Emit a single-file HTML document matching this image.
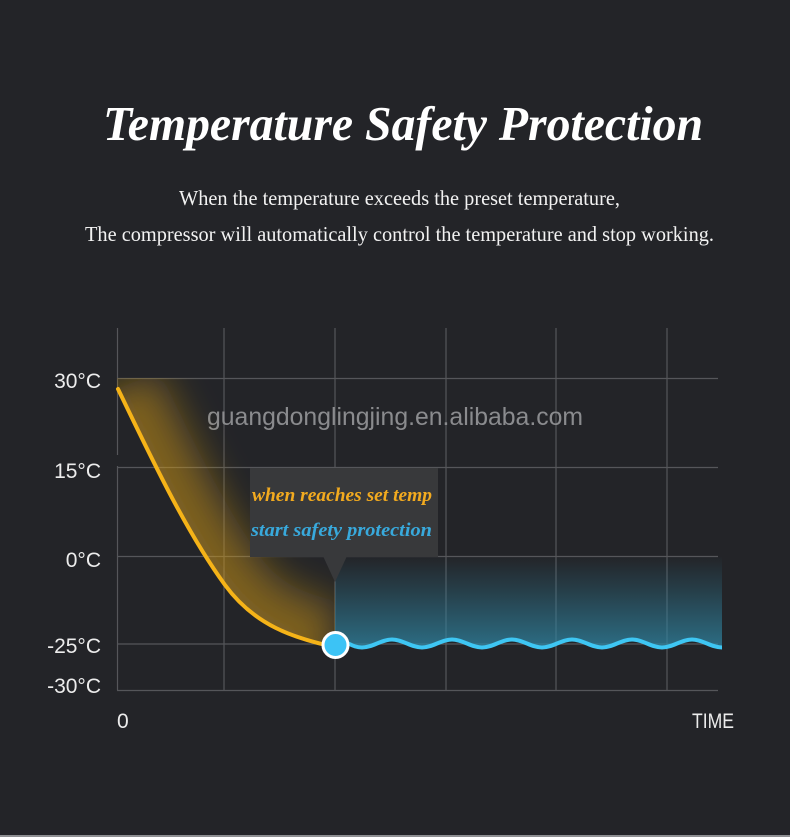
<!DOCTYPE html>
<html>
<head>
<meta charset="utf-8">
<style>
  html, body { margin:0; padding:0; background:#232428; }
  body { width:790px; height:837px; overflow:hidden; }
  svg { display:block; }
</style>
</head>
<body>
<svg width="790" height="837" viewBox="0 0 790 837" xmlns="http://www.w3.org/2000/svg">
  <defs>
    <filter id="blurG" filterUnits="userSpaceOnUse" x="0" y="300" width="500" height="450">
      <feGaussianBlur stdDeviation="18"/>
    </filter>
    <clipPath id="glowClip">
      <path d="M117,378 L117,389 L118,389 C150,455 185,530 225,585 C255,626 295,638 330,646 L335,646 L335,378 Z"/>
    </clipPath>
    <linearGradient id="blueFill" x1="0" y1="556" x2="0" y2="648" gradientUnits="userSpaceOnUse">
      <stop offset="0" stop-color="#2f86a3" stop-opacity="0"/>
      <stop offset="0.35" stop-color="#2f86a3" stop-opacity="0.25"/>
      <stop offset="1" stop-color="#2f86a3" stop-opacity="0.75"/>
    </linearGradient>
  </defs>

  <rect x="0" y="0" width="790" height="837" fill="#232428"/>
  <rect x="0" y="835" width="790" height="2" fill="#8e8f92"/>

  <!-- Title -->
  <text x="103" y="140" textLength="600" lengthAdjust="spacingAndGlyphs"
        font-family="Liberation Serif, serif" font-weight="bold" font-style="italic"
        font-size="49" fill="#ffffff">Temperature Safety Protection</text>

  <!-- Subtitle -->
  <text x="179" y="205" textLength="441" lengthAdjust="spacingAndGlyphs"
        font-family="Liberation Serif, serif" font-size="21" fill="#f2f2f2">When the temperature exceeds the preset temperature,</text>
  <text x="85" y="241" textLength="629" lengthAdjust="spacingAndGlyphs"
        font-family="Liberation Serif, serif" font-size="21" fill="#f2f2f2">The compressor will automatically control the temperature and stop working.</text>

  <!-- Grid -->
  <g stroke="#55565a" stroke-width="1.2" fill="none">
    <line x1="117.5" y1="328" x2="117.5" y2="455"/>
    <line x1="117.5" y1="466" x2="117.5" y2="690"/>
    <line x1="224" y1="328" x2="224" y2="690"/>
    <line x1="335" y1="328" x2="335" y2="690"/>
    <line x1="446" y1="328" x2="446" y2="690"/>
    <line x1="556" y1="328" x2="556" y2="690"/>
    <line x1="667" y1="328" x2="667" y2="690"/>
    <line x1="117" y1="378.5" x2="718" y2="378.5"/>
    <line x1="117" y1="467.5" x2="718" y2="467.5"/>
    <line x1="117" y1="556.5" x2="718" y2="556.5"/>
    <line x1="117" y1="644" x2="718" y2="644"/>
    <line x1="117" y1="690.5" x2="718" y2="690.5"/>
  </g>

  <!-- Watermark -->
  <text x="207" y="425" textLength="376" lengthAdjust="spacingAndGlyphs"
        font-family="Liberation Sans, sans-serif" font-size="25" fill="#8a8b8e">guangdonglingjing.en.alibaba.com</text>

  <!-- Yellow glow -->
  <g clip-path="url(#glowClip)">
    <path d="M118,389 C150,455 185,530 225,585 C255,626 295,638 330,646" fill="none"
          stroke="#d69d1c" stroke-width="90" stroke-opacity="0.42" filter="url(#blurG)"/>
    <path d="M118,389 C150,455 185,530 225,585 C255,626 295,638 330,646" fill="none"
          stroke="#d69d1c" stroke-width="24" stroke-opacity="0.25" filter="url(#blurG)"/>
  </g>

  <!-- Blue fill -->
  <path d="M335,640 C347,640 351,647.5 362,647.5 S381,639.5 392,639.5 S411,647.5 422,647.5 S441,639.5 452,639.5 S471,647.5 482,647.5 S501,639.5 512,639.5 S531,647.5 542,647.5 S561,639.5 572,639.5 S591,647.5 602,647.5 S621,639.5 632,639.5 S651,647.5 662,647.5 S681,639.5 692,639.5 S711,647.5 722,647.5 L722,556 L335,556 Z"
        fill="url(#blueFill)"/>

  <!-- Tooltip -->
  <rect x="250" y="468" width="188" height="89" fill="#38393b"/>
  <polygon points="323,556 347,556 335,582" fill="#38393b"/>
  <text x="252" y="501" textLength="180" lengthAdjust="spacingAndGlyphs"
        font-family="Liberation Serif, serif" font-weight="bold" font-style="italic"
        font-size="19" fill="#f2aa1f">when reaches set temp</text>
  <text x="251" y="536" textLength="181" lengthAdjust="spacingAndGlyphs"
        font-family="Liberation Serif, serif" font-weight="bold" font-style="italic"
        font-size="19" fill="#38a9dc">start safety protection</text>

  <!-- Yellow curve -->
  <path d="M118,389 C150,455 185,530 225,585 C255,626 295,638 330,646" fill="none"
        stroke="#f5b318" stroke-width="4" stroke-linecap="round"/>

  <!-- Blue wave -->
  <path d="M335,640 C347,640 351,647.5 362,647.5 S381,639.5 392,639.5 S411,647.5 422,647.5 S441,639.5 452,639.5 S471,647.5 482,647.5 S501,639.5 512,639.5 S531,647.5 542,647.5 S561,639.5 572,639.5 S591,647.5 602,647.5 S621,639.5 632,639.5 S651,647.5 662,647.5 S681,639.5 692,639.5 S711,647.5 722,647.5"
        fill="none" stroke="#3ec6f3" stroke-width="4"/>

  <!-- Marker -->
  <circle cx="335.5" cy="645" r="12.5" fill="#3cc3f5" stroke="#ffffff" stroke-width="3"/>

  <!-- Y labels -->
  <g font-family="Liberation Sans, sans-serif" font-size="21" fill="#ececec" text-anchor="end">
    <text x="101" y="388">30°C</text>
    <text x="101" y="478">15°C</text>
    <text x="101" y="567">0°C</text>
    <text x="101" y="653">-25°C</text>
    <text x="101" y="693">-30°C</text>
  </g>

  <!-- X labels -->
  <text x="117" y="728" font-family="Liberation Sans, sans-serif" font-size="21" fill="#ececec">0</text>
  <text x="692" y="728" textLength="42" lengthAdjust="spacingAndGlyphs"
        font-family="Liberation Sans, sans-serif" font-size="21" fill="#ececec">TIME</text>
</svg>
</body>
</html>
